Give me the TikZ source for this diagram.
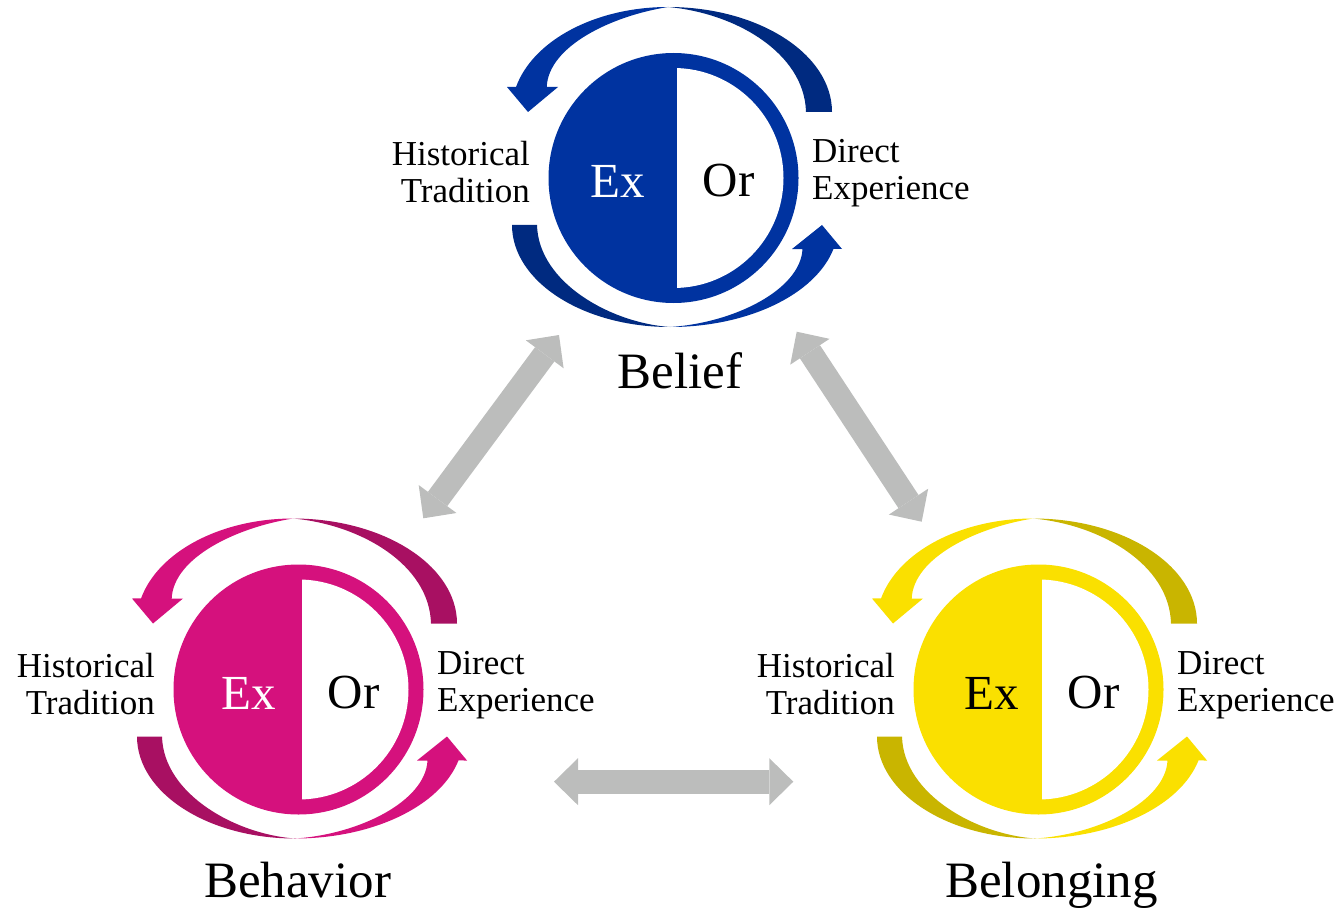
\documentclass[tikz,border=0pt]{standalone}
\usepackage{fontspec}
\setmainfont{Liberation Serif}
\usetikzlibrary{arrows.meta}

\definecolor{beliefblue}{RGB}{0,51,160}
\definecolor{beliefdark}{RGB}{0,42,128}
\definecolor{behaviorpink}{RGB}{213,17,125}
\definecolor{behaviordark}{RGB}{168,16,98}
\definecolor{belongyellow}{RGB}{250,224,0}
\definecolor{belongdark}{RGB}{201,181,0}
\definecolor{linkgray}{RGB}{188,189,188}

\begin{document}
\begin{tikzpicture}[
x=1pt, y=1pt,
core label/.style = {font=\fontsize{49}{49}\selectfont, anchor=base, inner sep=0pt},
side label/.style = {font=\fontsize{35}{37}\selectfont, inner sep=0pt},
unit label/.style = {font=\fontsize{51}{51}\selectfont, anchor=base, inner sep=0pt},
link/.style = {draw=linkgray, line width=24pt},
>={Triangle[width=47pt,length=24pt,line width=0pt]},
]

\useasboundingbox (0,0) rectangle (1341,-912);

\foreach \cx/\cy/\nm/\main/\dark/\excol/\exdx/\lbl/\lbldx/\lbldy in {
  673.5/-178/belief/beliefblue/beliefdark/white/-56/Belief/6.5/-210.5,
  298.5/-689.5/behavior/behaviorpink/behaviordark/white/-50/Behavior/-1/-207.5,
  1038.5/-689.5/belonging/belongyellow/belongdark/black/-46.5/Belonging/13/-207.5}
{
\begin{scope}[shift={(\cx,\cy)}]
  % ring with white right half
  \fill[\main] (0,0) circle (125pt);
  \begin{scope}
    \clip (3.5,-115) rectangle (115,115);
    \fill[white] (0,0) circle (110pt);
  \end{scope}

  % upper arrow: back then front
  \fill[\dark] (-5.5,171) arc[start angle=90, end angle=0, x radius=164pt, y radius=105pt]
    -- (132.5,66) .. controls (131,125) and (62,165) .. (-5.5,171) -- cycle;
  \fill[\main] (-5.5,171) arc[start angle=90, end angle=166.2, x radius=156.5pt, y radius=105pt]
    -- (-166.5,91) -- (-145.5,66) -- (-115.5,91) -- (-126.8,91)
    .. controls (-125,132) and (-62,162) .. (-5.5,171) -- cycle;

  % lower arrow: back then front
  \fill[\dark] (-3.5,-149) arc[start angle=270, end angle=180, x radius=158pt, y radius=102pt]
    -- (-136.5,-47) .. controls (-135,-105) and (-62,-145) .. (-3.5,-149) -- cycle;
  \fill[\main] (-3.5,-149) arc[start angle=270, end angle=346.4, x radius=168.2pt, y radius=102pt]
    -- (168.5,-71) -- (148.5,-47) -- (118.5,-71) -- (129,-71)
    .. controls (127,-112) and (60,-145) .. (-3.5,-149) -- cycle;

  \node (\nm-ex) [core label, text=\excol] at (\exdx,-20) {Ex};
  \node (\nm-or) [core label] at (55,-19) {Or};
  \node (\nm-hist) [side label, align=right, anchor=base east] at (-143.5,-25) {Historical\\Tradition};
  \node (\nm-dir) [side label, align=left, anchor=base west] at (138.5,-22) {Direct\\Experience};
  \node (\nm-name) [unit label] at (\lbldx,\lbldy) {\lbl};
\end{scope}
}

\coordinate (beliefSW) at (559,-335);
\coordinate (behaviorNE) at (423.3,-518.3);
\coordinate (beliefSE) at (796.7,-331.7);
\coordinate (belongingNW) at (921.7,-521.7);
\coordinate (behaviorE) at (554,-781.7);
\coordinate (belongingW) at (793.3,-781.7);

\draw[link, <->] (behaviorNE) -- (beliefSW);
\draw[link, <->] (beliefSE) -- (belongingNW);
\draw[link, <->] (behaviorE) -- (belongingW);

\end{tikzpicture}
\end{document}
